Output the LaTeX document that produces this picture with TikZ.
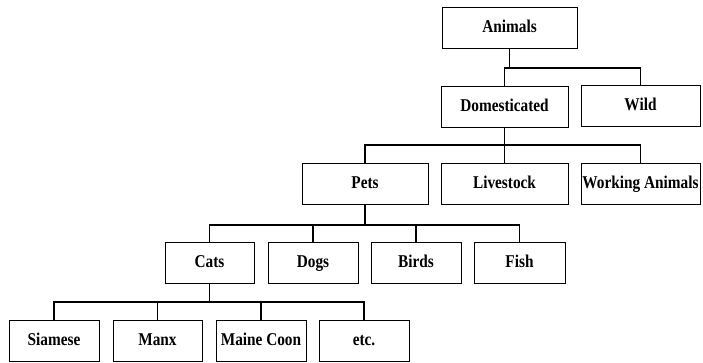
\documentclass[tikz,border=0pt]{standalone}
\usepackage{fontspec}
\setmainfont{Liberation Serif}[FakeStretch=0.85]
\tikzset{
  box/.style={draw, line width=0.6pt, minimum height=41pt, inner sep=0pt,
    text height=13pt, text depth=4pt,
    font=\fontsize{18}{20}\selectfont\bfseries},
  link/.style={line width=1.5pt},
}
\begin{document}
\begin{tikzpicture}[x=1pt, y=-1pt]
  \useasboundingbox (0,0) rectangle (703,362);

  % Boxes
  \node[box, minimum width=135pt] (animals) at (509.5,28) {Animals};
  \node[box, minimum width=127pt] (domestic) at (504.5,106.5) {Domesticated};
  \node[box, minimum width=119pt] (wild) at (640.5,105.5) {Wild};
  \node[box, minimum width=126pt] (pets) at (365,183.5) {Pets};
  \node[box, minimum width=127pt] (livestock) at (504.5,183.5) {Livestock};
  \node[box, minimum width=119pt] (working) at (640.5,184) {Working Animals};
  \node[box, minimum width=89pt] (cats) at (209.5,263) {Cats};
  \node[box, minimum width=90pt] (dogs) at (313,263) {Dogs};
  \node[box, minimum width=90pt] (birds) at (416,263) {Birds};
  \node[box, minimum width=91pt] (fish) at (519.5,263) {Fish};
  \node[box, minimum width=90pt] (siamese) at (54,341) {Siamese};
  \node[box, minimum width=89pt] (manx) at (157.5,341) {Manx};
  \node[box, minimum width=90pt] (mainecoon) at (261,341) {Maine Coon};
  \node[box, minimum width=90pt] (etc) at (364,341) {etc.};

  % Bars
  \coordinate (bar1) at (0,68);
  \coordinate (bar2) at (0,145);
  \coordinate (bar3) at (0,225);
  \coordinate (bar4) at (0,302);

  % Lines
  \draw[link] (animals.south) -- (animals.south |- bar1);
  \draw[link] (domestic.north) |- (wild.north |- bar1) -- (wild.north);

  \draw[link] (domestic.south) -- (domestic.south |- bar2);
  \draw[link] (pets.north) |- (working.north |- bar2) -- (working.north);
  \draw[link] (livestock.north) -- (livestock.north |- bar2);

  \draw[link] (pets.south) -- (pets.south |- bar3);
  \draw[link] (cats.north) |- (fish.north |- bar3) -- (fish.north);
  \draw[link] (dogs.north) -- (dogs.north |- bar3);
  \draw[link] (birds.north) -- (birds.north |- bar3);

  \draw[link] (cats.south) -- (cats.south |- bar4);
  \draw[link] (siamese.north) |- (etc.north |- bar4) -- (etc.north);
  \draw[link] (manx.north) -- (manx.north |- bar4);
  \draw[link] (mainecoon.north) -- (mainecoon.north |- bar4);
\end{tikzpicture}
\end{document}
